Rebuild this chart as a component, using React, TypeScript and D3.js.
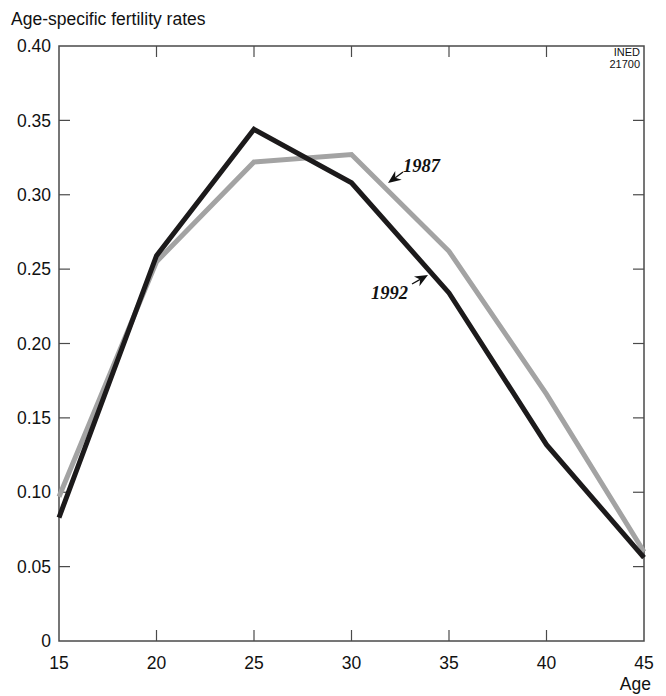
import React from "react";
import * as d3 from "d3";

const ages = [15, 20, 25, 30, 35, 40, 45];
const rates1992 = [0.083, 0.259, 0.344, 0.308, 0.234, 0.132, 0.056];
const rates1987 = [0.097, 0.255, 0.322, 0.327, 0.262, 0.166, 0.06];
const yTicks = [0, 0.05, 0.1, 0.15, 0.2, 0.25, 0.3, 0.35, 0.4];
const xTicks = [15, 20, 25, 30, 35, 40, 45];

const W = 666, H = 696;
const m = { left: 59, right: 644, top: 46, bottom: 641 };

export default function App() {
  const x = d3.scaleLinear().domain([15, 45]).range([m.left, m.right]);
  const y = d3.scaleLinear().domain([0, 0.4]).range([m.bottom, m.top]);
  const line = d3.line<number>().x((_, i) => x(ages[i])).y((d) => y(d));
  const sans = "'Liberation Sans', Arial, sans-serif";
  const serif = "'Liberation Serif', 'Times New Roman', serif";
  const yFmt = (v: number) => (v === 0 ? "0" : v.toFixed(2));
  const tick = 11;
  const frame = "#4a4a4a";

  const arrow = (x1: number, y1: number, x2: number, y2: number) => {
    const ang = Math.atan2(y2 - y1, x2 - x1);
    const L = 13, Wd = 5.5;
    const bx = x2 - L * Math.cos(ang), by = y2 - L * Math.sin(ang);
    const px = -Math.sin(ang), py = Math.cos(ang);
    const head = `M${x2},${y2} L${bx + px * Wd},${by + py * Wd} L${bx + 4 * Math.cos(ang)},${by + 4 * Math.sin(ang)} L${bx - px * Wd},${by - py * Wd} Z`;
    return (
      <g>
        <line x1={x1} y1={y1} x2={bx + 4 * Math.cos(ang)} y2={by + 4 * Math.sin(ang)} stroke="#111" strokeWidth={1.3} />
        <path d={head} fill="#111" />
      </g>
    );
  };

  return (
    <svg width={W} height={H} style={{ position: "absolute", left: 0, top: 0, background: "#fff" }}>
      <text x={11} y={25} fontFamily={sans} fontSize={17.5} fill="#111">Age-specific fertility rates</text>
      <rect x={m.left} y={m.top} width={m.right - m.left} height={m.bottom - m.top} fill="none" stroke={frame} strokeWidth={1.5} />
      {yTicks.map((t) => (
        <g key={t}>
          {t > 0 && t < 0.4 && (
            <>
              <line x1={m.left} x2={m.left + tick} y1={y(t)} y2={y(t)} stroke={frame} strokeWidth={1.2} />
              <line x1={m.right} x2={m.right - tick} y1={y(t)} y2={y(t)} stroke={frame} strokeWidth={1.2} />
            </>
          )}
          <text x={m.left - 8} y={y(t)} dy="0.35em" textAnchor="end" fontFamily={sans} fontSize={17.5} fill="#111">{yFmt(t)}</text>
        </g>
      ))}
      {xTicks.map((t) => (
        <g key={t}>
          {t > 15 && t < 45 && (
            <>
              <line x1={x(t)} x2={x(t)} y1={m.bottom} y2={m.bottom - tick} stroke={frame} strokeWidth={1.2} />
              <line x1={x(t)} x2={x(t)} y1={m.top} y2={m.top + tick} stroke={frame} strokeWidth={1.2} />
            </>
          )}
          <text x={x(t)} y={m.bottom + 28} textAnchor="middle" fontFamily={sans} fontSize={17.5} fill="#111">{t}</text>
        </g>
      ))}
      <text x={m.right + 7} y={m.bottom + 49} textAnchor="end" fontFamily={sans} fontSize={17.5} fill="#111">Age</text>
      <text x={m.right - 4} y={56} textAnchor="end" fontFamily={sans} fontSize={11} fill="#111">INED</text>
      <text x={m.right - 4} y={68} textAnchor="end" fontFamily={sans} fontSize={11} fill="#111">21700</text>
      <path d={line(rates1987) || ""} fill="none" stroke="#a3a3a3" strokeWidth={5} strokeLinejoin="miter" />
      <path d={line(rates1992) || ""} fill="none" stroke="#1c1a1b" strokeWidth={5} strokeLinejoin="miter" />
      <text x={403} y={172} fontFamily={serif} fontStyle="italic" fontWeight="bold" fontSize={18.5} fill="#111">1987</text>
      {arrow(403, 172, 388, 183)}
      <text x={371} y={299} fontFamily={serif} fontStyle="italic" fontWeight="bold" fontSize={18.5} fill="#111">1992</text>
      {arrow(412, 284, 428, 275)}
    </svg>
  );
}
